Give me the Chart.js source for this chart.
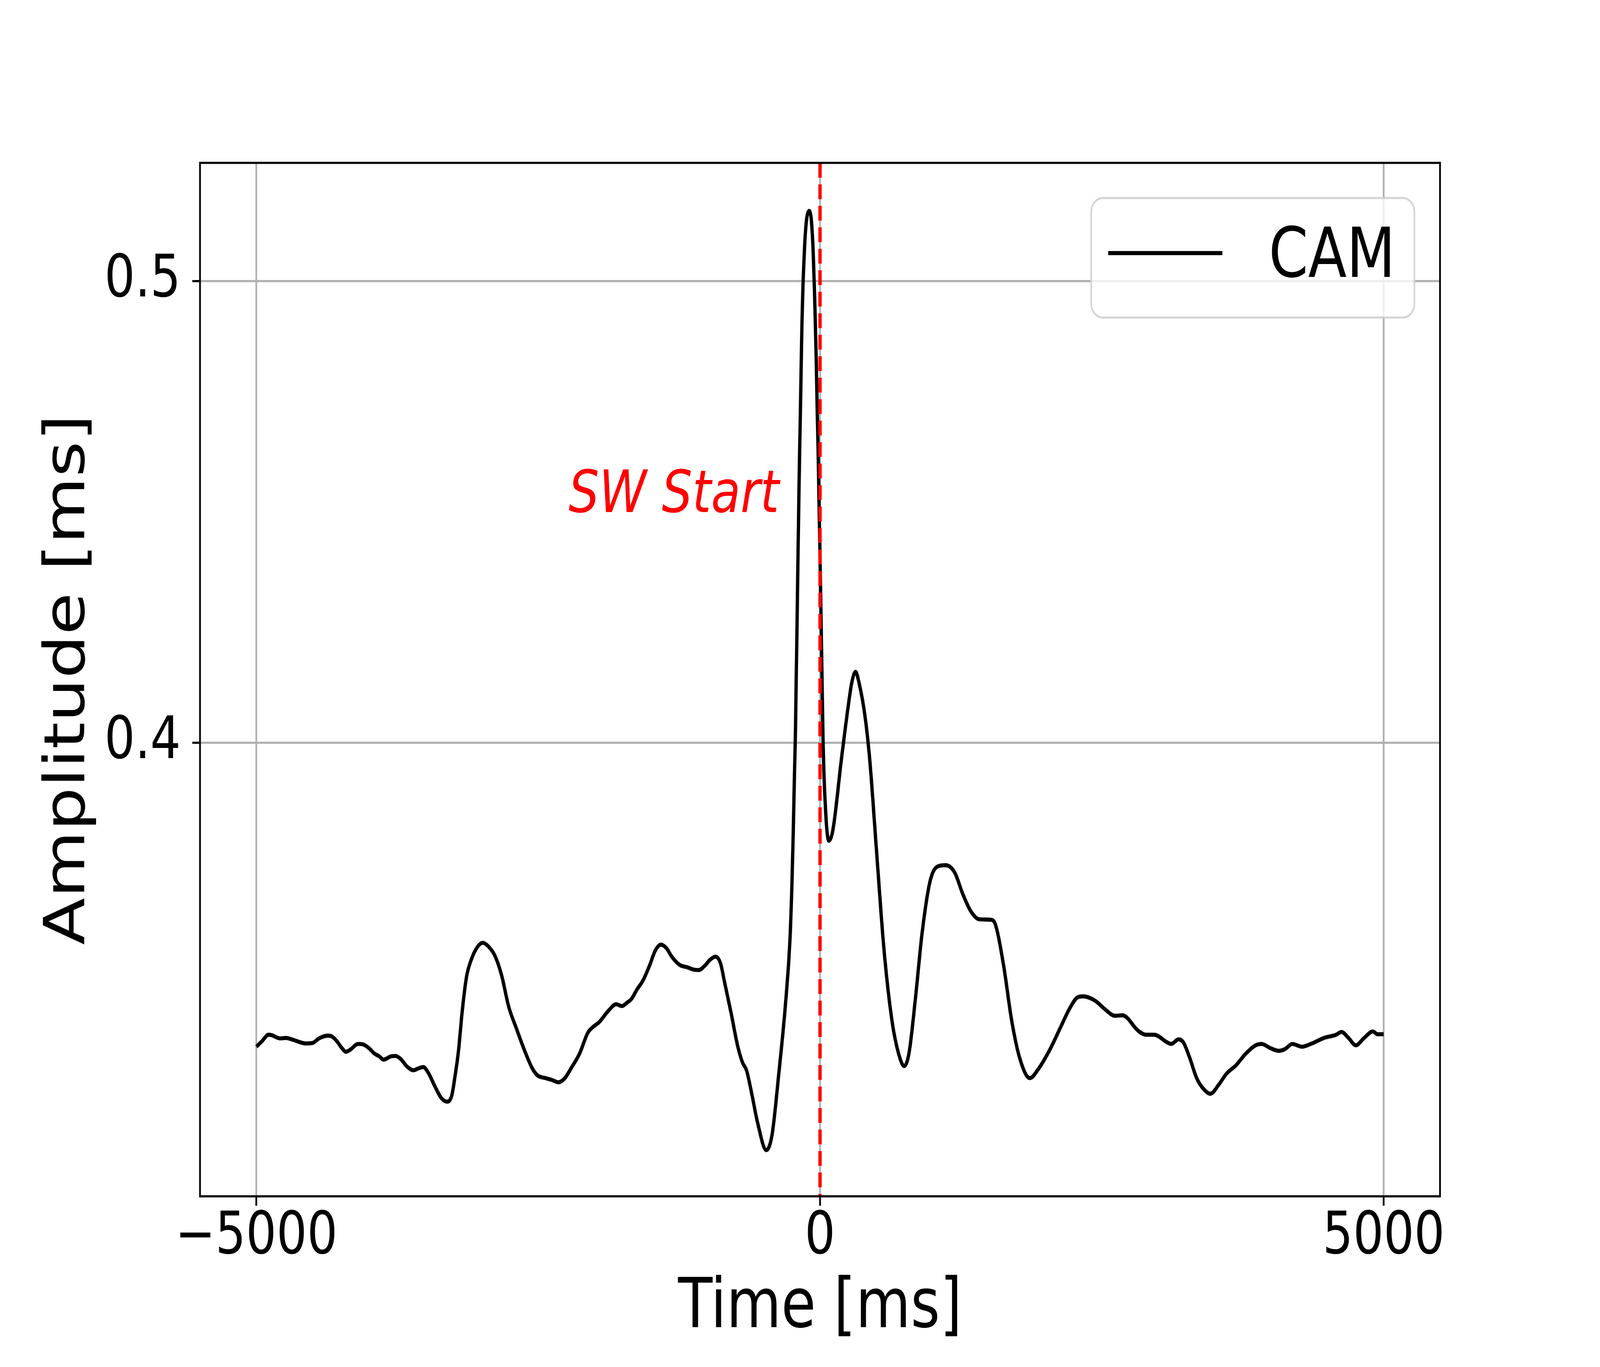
<!DOCTYPE html>
<html>
<head>
<meta charset="utf-8">
<title>CAM</title>
<script src="https://cdn.jsdelivr.net/npm/chart.js@4/dist/chart.umd.min.js"></script>
<style>
  html, body { margin: 0; padding: 0; overflow: hidden; background: #fff; }
  canvas { display: block; }
</style>
</head>
<body>
<canvas id="chart" width="5000" height="3500" style="width:100vw;height:100vh"></canvas>
<script>
// values
const times = [
  -5000, -4950, -4892, -4864, -4790, -4740, -4674, -4617, -4560, -4502,
  -4444, -4366, -4329, -4286, -4241, -4206, -4170, -4097, -4054, -3997,
  -3952, -3909, -3873, -3807, -3765, -3722, -3663, -3606, -3564, -3519,
  -3476, -3418, -3360, -3309, -3266, -3238, -3208, -3173, -3136, -3099,
  -3042, -2992, -2941, -2884, -2825, -2762, -2697, -2623, -2552, -2507,
  -2436, -2379, -2320, -2263, -2204, -2133, -2060, -2017, -1960, -1873,
  -1808, -1757, -1714, -1671, -1626, -1569, -1510, -1462, -1411, -1365,
  -1309, -1244, -1178, -1121, -1077, -1020, -977, -926, -882, -847,
  -788, -730, -688, -652, -603, -556, -476, -425, -368, -302,
  -264, -241, -217, -188, -160, -132, -96, -66, -38, -14,
  11, 28, 53, 78, 114, 190, 255, 283, 315, 348, 399,
  442, 501, 567, 638, 703, 747, 790, 847, 906, 977,
  1050, 1115, 1195, 1266, 1339, 1411, 1513, 1555, 1628, 1700,
  1773, 1862, 1935, 2042, 2130, 2215, 2280, 2334, 2444, 2519,
  2618, 2683, 2825, 2890, 2964, 3083, 3116, 3181, 3224, 3278,
  3343, 3408, 3462, 3538, 3604, 3691, 3777, 3864, 3918, 3994,
  4071, 4125, 4190, 4276, 4363, 4471, 4579, 4626, 4688, 4753,
  4827, 4904, 4946, 5000
];
const camAmplitude = [
  0.3342, 0.3354, 0.3368, 0.3367, 0.3360, 0.3361, 0.3357, 0.3352, 0.3349, 0.3350,
  0.3360, 0.3366, 0.3364, 0.3354, 0.3339, 0.3331, 0.3335, 0.3348, 0.3347, 0.3338,
  0.3327, 0.3321, 0.3314, 0.3321, 0.3322, 0.3316, 0.3299, 0.3291, 0.3295, 0.3298,
  0.3286, 0.3257, 0.3231, 0.3223, 0.3237, 0.3278, 0.3331, 0.3421, 0.3493, 0.3527,
  0.3557, 0.3567, 0.3559, 0.3539, 0.3497, 0.3429, 0.3384, 0.3335, 0.3295, 0.3280,
  0.3274, 0.3270, 0.3265, 0.3274, 0.3297, 0.3327, 0.3372, 0.3384, 0.3395, 0.3421,
  0.3434, 0.3430, 0.3437, 0.3446, 0.3465, 0.3486, 0.3519, 0.3550, 0.3563, 0.3556,
  0.3535, 0.3519, 0.3514, 0.3509, 0.3508, 0.3518, 0.3530, 0.3537, 0.3522, 0.3482,
  0.3414, 0.3343, 0.3308, 0.3291, 0.3237, 0.3180, 0.3118, 0.3152, 0.3278, 0.3447,
  0.3587, 0.3769, 0.4036, 0.4527, 0.4910, 0.5095, 0.5152, 0.5092, 0.4877, 0.4597,
  0.4246, 0.3994, 0.3839, 0.3788, 0.3811, 0.3965, 0.4088, 0.4132, 0.4154, 0.4128, 0.4058,
  0.3961, 0.3767, 0.3554, 0.3399, 0.3322, 0.3300, 0.3329, 0.3448, 0.3589, 0.3701,
  0.3733, 0.3735, 0.3719, 0.3673, 0.3635, 0.3618, 0.3617, 0.3607, 0.3519, 0.3399,
  0.3316, 0.3274, 0.3293, 0.3337, 0.3382, 0.3425, 0.3448, 0.3451, 0.3441, 0.3425,
  0.3409, 0.3410, 0.3376, 0.3368, 0.3368, 0.3351, 0.3348, 0.3358, 0.3351, 0.3319,
  0.3273, 0.3249, 0.3240, 0.3260, 0.3283, 0.3302, 0.3327, 0.3345, 0.3348, 0.3339,
  0.3333, 0.3337, 0.3348, 0.3342, 0.3349, 0.3361, 0.3368, 0.3374, 0.3361, 0.3345,
  0.3361, 0.3375, 0.3369, 0.3369
];
const xTicks = [-5000, 0, 5000];
const yTicks = [0.4, 0.5];
const xRange = [-5500, 5500];
const yRange = [0.3018, 0.5256];
const swStart = 0; // start marker on the time axis
const swLabel = "SW Start";
const seriesLabel = "CAM";

const FONT = "'DejaVu Sans', 'Liberation Sans', sans-serif";
const points = times.map((t, i) => ({x: t, y: camAmplitude[i]}));

// frame, start line, its label and the legend
const overlay = {
  id: "overlay",
  afterDatasetsDraw(chart) {
    const {ctx, chartArea: a, scales} = chart;
    const x0 = scales.x.getPixelForValue(swStart);
    ctx.save();
    ctx.strokeStyle = "#ff0000";
    ctx.lineWidth = 10.4;
    ctx.setLineDash([38, 17]);
    ctx.beginPath();
    ctx.moveTo(x0, a.top);
    ctx.lineTo(x0, a.bottom);
    ctx.stroke();
    ctx.setLineDash([]);

    ctx.fillStyle = "#ff0000";
    ctx.font = "italic 150px " + FONT;
    ctx.textAlign = "right";
    ctx.textBaseline = "alphabetic";
    ctx.fillText(swLabel, scales.x.getPixelForValue(-363), scales.y.getPixelForValue(0.45));
    ctx.restore();
  },
  afterDraw(chart) {
    const {ctx, chartArea: a} = chart;
    ctx.save();
    ctx.strokeStyle = "#000";
    ctx.lineWidth = 5.5;
    ctx.strokeRect(a.left, a.top, a.right - a.left, a.bottom - a.top);

    // legend box
    const bx = a.right - 1090, by = a.top + 90, bw = 1010, bh = 306;
    ctx.beginPath();
    ctx.roundRect(bx, by, bw, bh, 36);
    ctx.fillStyle = "rgba(255,255,255,0.8)";
    ctx.fill();
    ctx.strokeStyle = "rgba(204,204,204,0.8)";
    ctx.lineWidth = 5.5;
    ctx.stroke();
    ctx.strokeStyle = "#000";
    ctx.lineWidth = 10.4;
    ctx.beginPath();
    ctx.moveTo(bx + 53, by + 141);
    ctx.lineTo(bx + 410, by + 141);
    ctx.stroke();
    ctx.fillStyle = "#000";
    ctx.font = "176px " + FONT;
    ctx.textAlign = "left";
    ctx.textBaseline = "alphabetic";
    ctx.fillText(chart.data.datasets[0].label, bx + 555, by + 202);
    ctx.restore();
  }
};

new Chart(document.getElementById("chart"), {
  type: "line",
  data: {
    datasets: [{
      label: seriesLabel,
      data: points,
      borderColor: "#000000",
      borderWidth: 10.4,
      pointRadius: 0,
      fill: false,
      cubicInterpolationMode: "monotone"
    }]
  },
  options: {
    responsive: false,
    animation: false,
    devicePixelRatio: 1,
    layout: {padding: {left: 0, top: 417, right: 500, bottom: 0}},
    plugins: {legend: {display: false}, title: {display: false}, tooltip: {enabled: false}},
    scales: {
      x: {
        type: "linear",
        min: xRange[0],
        max: xRange[1],
        afterBuildTicks: (s) => { s.ticks = xTicks.map(v => ({value: v})); },
        afterFit: (s) => { s.height = 437; },
        grid: {color: "#b0b0b0", lineWidth: 5.5, tickColor: "#000", tickWidth: 5.5, tickLength: 24},
        border: {display: false},
        ticks: {
          color: "#000",
          padding: 8,
          maxRotation: 0,
          font: {family: FONT, size: 150, lineHeight: 1},
          callback: (v) => v < 0 ? "\u2212" + Math.abs(v) : String(v)
        },
        title: {display: true, text: "Time [ms]", color: "#000",
          font: {family: FONT, size: 176}, padding: {top: 0, bottom: 42}}
      },
      y: {
        type: "linear",
        min: yRange[0],
        max: yRange[1],
        afterBuildTicks: (s) => { s.ticks = yTicks.map(v => ({value: v})); },
        afterFit: (s) => { s.width = 625; },
        grid: {color: "#b0b0b0", lineWidth: 5.5, tickColor: "#000", tickWidth: 5.5, tickLength: 24},
        border: {display: false},
        ticks: {
          color: "#000",
          padding: 36,
          font: {family: FONT, size: 150},
          callback: (v) => v.toFixed(1)
        },
        title: {display: true, text: "Amplitude [ms]", color: "#000",
          font: {family: FONT, size: 176}, padding: {top: 112, bottom: 0}}
      }
    }
  },
  plugins: [overlay]
});
</script>
</body>
</html>
